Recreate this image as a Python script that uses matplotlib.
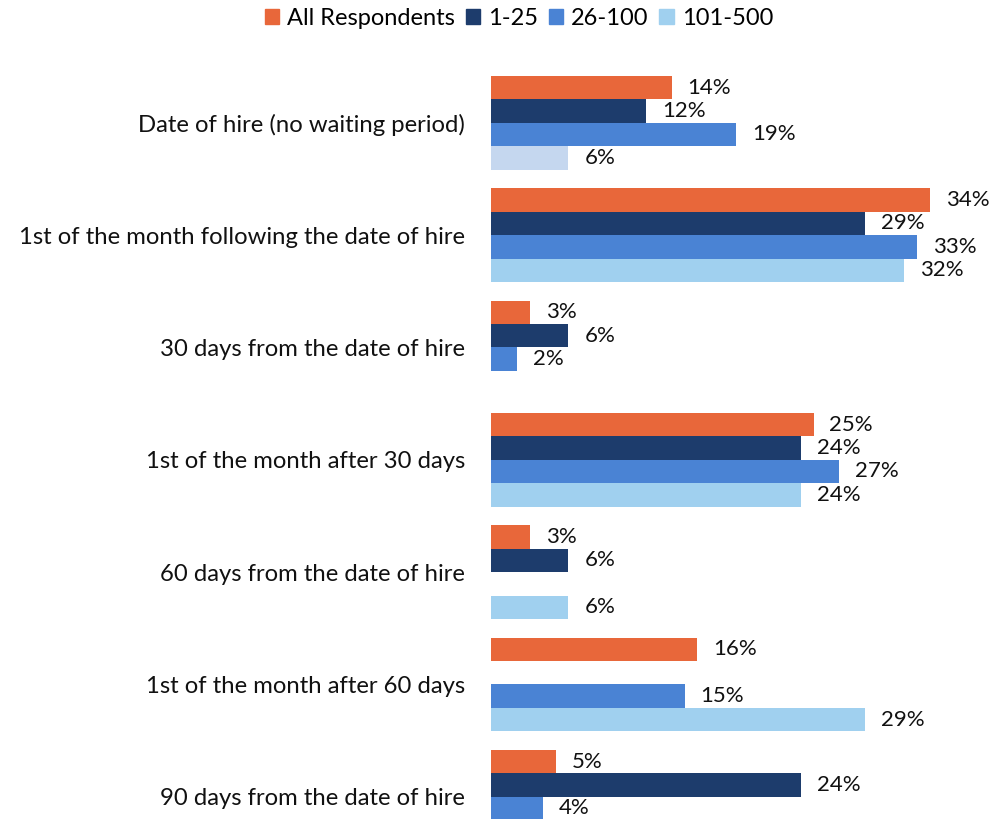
import numpy as np
import matplotlib
matplotlib.use('Agg')
import matplotlib.pyplot as plt
from matplotlib.patches import Patch

plt.rcParams['font.family'] = ['Lato', 'DejaVu Sans']

categories = ['Date of hire (no waiting period)',
              '1st of the month following the date of hire',
              '30 days from the date of hire',
              '1st of the month after 30 days',
              '60 days from the date of hire',
              '1st of the month after 60 days',
              '90 days from the date of hire']
series_names = ['All Respondents', '1-25', '26-100', '101-500']
all_resp = [14, 34, 3, 25, 3, 16, 5]
size_1_25 = [12, 29, 6, 24, 6, 0, 24]
size_26_100 = [19, 33, 2, 27, 0, 15, 4]
size_101_500 = [6, 32, 0, 24, 6, 29, 0]

colors = ['#E8673A', '#1D3C6C', '#4A83D4', '#A0D0EF']
pale = '#C5D7EF'

fig = plt.figure(figsize=(10.04, 8.19), dpi=100)
ax = fig.add_axes([491 / 1004, 0, 513 / 1004, 769 / 819])

y = np.arange(len(categories))
h = 0.2083
all_series = [all_resp, size_1_25, size_26_100, size_101_500]
for k, vals in enumerate(all_series):
    pos = y + (k - 1.5) * h
    bars = ax.barh(pos, vals, height=h, color=colors[k], linewidth=0)
    if k == 3:
        bars[0].set_facecolor(pale)
    for p, v in zip(pos, vals):
        if v > 0:
            ax.annotate(f'{v}%', (v, p), xytext=(11.5, 0), textcoords='offset points',
                        va='center', ha='left', fontsize=16, color='#111111')

ax.set_xlim(0, 513 / 12.9)
ax.set_ylim(6.198, -0.648)
ax.set_yticks(y)
ax.set_yticklabels(categories, fontsize=17.2, color='#111111')
ax.tick_params(axis='y', length=0, pad=18.5)
ax.set_xticks([])
for s in ax.spines.values():
    s.set_visible(False)

handles = [Patch(color=c) for c in colors]
fig.legend(handles, series_names, loc='upper center', bbox_to_anchor=(0.517, 1.016),
           ncol=4, frameon=False, fontsize=17, handlelength=0.6, handleheight=0.6,
           handletextpad=0.35, columnspacing=0.45)

fig.savefig('out.png', dpi=100)
